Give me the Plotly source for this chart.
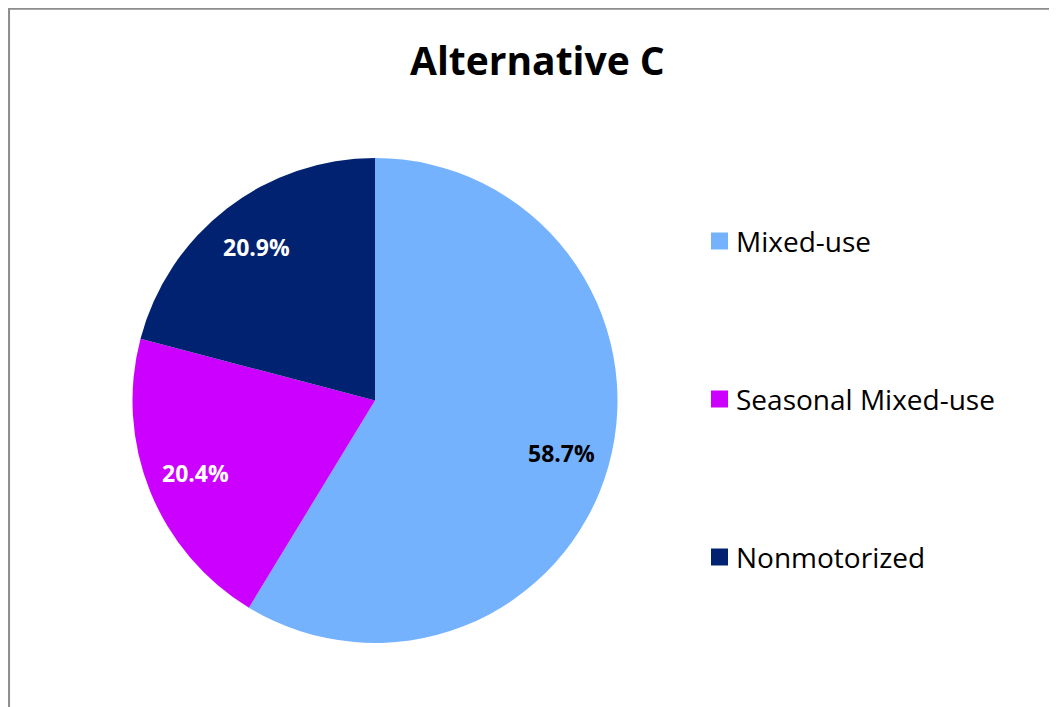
import math

import plotly.graph_objects as go

categories = ["Mixed-use", "Seasonal Mixed-use", "Nonmotorized"]
shares = [58.7, 20.4, 20.9]
colors = ["#75B2FE", "#CC00FF", "#002270"]
label_colors = ["#000000", "#FFFFFF", "#FFFFFF"]

# the page puts the figure 8px in from the top-left corner
OFF = 8
W, H = 1057 - OFF, 707 - OFF
FONT = "Open Sans"


def px(x):
    return (x - OFF) / W


def py(y):
    return 1 - (y - OFF) / H


# pie geometry in page pixels
cx, cy, r = 375, 400.5, 242.5

fig = go.Figure(
    go.Pie(
        labels=categories,
        values=shares,
        marker={"colors": colors, "line": {"width": 0}},
        sort=False,
        direction="clockwise",
        rotation=0,
        textinfo="none",
        hoverinfo="label+percent",
        showlegend=False,
        domain={"x": [px(cx - r), px(cx + r)], "y": [py(cy + r), py(cy - r)]},
    )
)

annotations = [
    dict(text="<b>Alternative C</b>", x=px(537), y=py(60), xref="paper", yref="paper",
         showarrow=False, font={"size": 39, "color": "#000", "family": FONT}, xanchor="center", yanchor="middle"),
]
shapes = [
    dict(type="rect", xref="paper", yref="paper", x0=0.001, x1=1.02, y0=-0.02, y1=0.999,
         line={"color": "#8c8c8c", "width": 2}, fillcolor="rgba(0,0,0,0)", layer="above"),
]

# percent labels placed at 0.8 r along each slice's mid-angle
total = sum(shares)
acc = 0.0
for v, col in zip(shares, label_colors):
    mid = (acc + v / 2) / total * 2 * math.pi
    acc += v
    lx = cx + 0.8 * r * math.sin(mid)
    ly = cy - 0.8 * r * math.cos(mid)
    annotations.append(dict(text=f"<b>{v:.1f}%</b>", x=px(lx), y=py(ly), xref="paper", yref="paper",
                            showarrow=False, font={"size": 23, "color": col, "family": FONT},
                            xanchor="center", yanchor="middle"))

# legend drawn by hand: squares + labels
for i, (name, col) in enumerate(zip(categories, colors)):
    ly = 241 + i * 158
    shapes.append(dict(type="rect", xref="paper", yref="paper", x0=px(711), x1=px(728),
                       y0=py(ly + 8.5), y1=py(ly - 8.5), line={"width": 0}, fillcolor=col))
    annotations.append(dict(text=name, x=px(734), y=py(ly), xref="paper", yref="paper", showarrow=False,
                            font={"size": 28, "color": "#000", "family": FONT}, xanchor="left", yanchor="middle"))

fig.update_layout(
    width=W,
    height=H,
    margin={"l": 0, "r": 0, "t": 0, "b": 0},
    paper_bgcolor="white",
    plot_bgcolor="white",
    annotations=annotations,
    shapes=shapes,
)

fig.write_html("out.html")
